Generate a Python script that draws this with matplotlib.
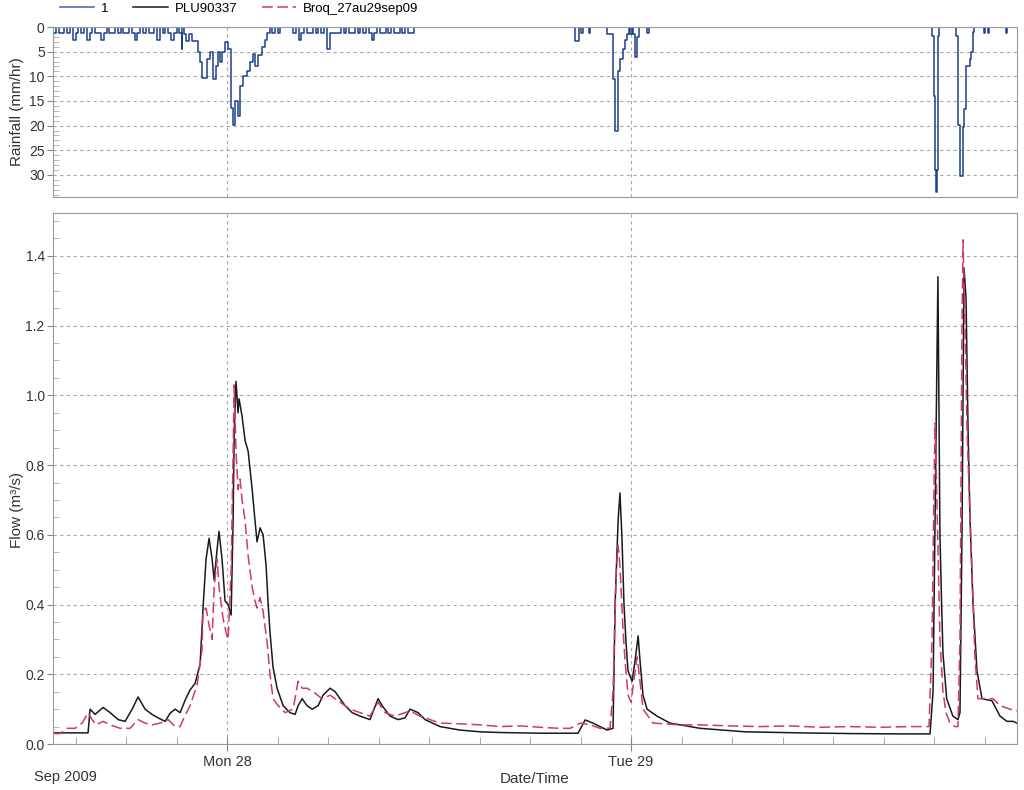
import numpy as np
import matplotlib
matplotlib.use('Agg')
import matplotlib.pyplot as plt
import matplotlib.dates as mdates
from matplotlib.ticker import MultipleLocator, FormatStrFormatter
from matplotlib.lines import Line2D

plt.rcParams['font.family'] = ['Liberation Sans', 'DejaVu Sans']

# times are hours after 27 Sep 2009 00:00
t_start, t_end = 13.66, 70.93

# modelled flow PLU90337 (m3/s)
plu_h = [13.66, 15.74, 15.86, 16.16, 16.63, 17.05, 17.53, 17.94, 18.36, 18.71, 19.13, 19.54,
         19.90, 20.32, 20.61, 20.91, 21.21, 21.51, 21.80, 22.10, 22.40, 22.57, 22.75, 22.93,
         23.11, 23.23, 23.41, 23.52, 23.70, 23.88, 24.06, 24.24, 24.36, 24.42, 24.53, 24.65,
         24.71, 24.89, 25.07, 25.25, 25.49, 25.66, 25.78, 25.96, 26.14, 26.32, 26.44, 26.55,
         26.73, 26.97, 27.33, 27.74, 28.04, 28.22, 28.46, 28.75, 29.05, 29.41, 29.70, 30.12,
         30.42, 30.71, 31.01, 31.43, 31.90, 32.49, 32.97, 33.21, 33.68, 34.16, 34.57, 34.87,
         35.35, 35.76, 36.65, 37.84, 39.03, 40.22, 42.59, 44.85, 45.27, 45.74, 46.57, 46.93,
         47.05, 47.23, 47.34, 47.46, 47.58, 47.70, 47.82, 48.06, 48.24, 48.42, 48.53, 48.71,
         48.95, 49.54, 50.31, 50.91, 52.10, 54.77, 58.04, 61.01, 63.98, 65.76, 65.94, 66.06,
         66.23, 66.35, 66.45, 66.53, 66.75, 67.12, 67.42, 67.54, 67.66, 67.78, 67.90, 68.02,
         68.14, 68.31, 68.55, 68.85, 69.44, 69.92, 70.33, 70.69, 70.93]
plu_q = [0.032, 0.032, 0.10, 0.085, 0.105, 0.09, 0.07, 0.065, 0.10, 0.135, 0.10, 0.085,
         0.075, 0.065, 0.088, 0.10, 0.09, 0.126, 0.155, 0.174, 0.23, 0.39, 0.53, 0.59,
         0.53, 0.47, 0.56, 0.61, 0.53, 0.41, 0.40, 0.37, 0.65, 0.89, 1.04, 0.95,
         0.99, 0.94, 0.87, 0.84, 0.73, 0.64, 0.58, 0.62, 0.60, 0.51, 0.40, 0.32,
         0.22, 0.16, 0.11, 0.09, 0.085, 0.11, 0.13, 0.11, 0.10, 0.11, 0.14, 0.16,
         0.15, 0.13, 0.11, 0.09, 0.08, 0.07, 0.13, 0.11, 0.08, 0.07, 0.075, 0.10,
         0.09, 0.07, 0.05, 0.04, 0.035, 0.033, 0.031, 0.031, 0.069, 0.06, 0.04, 0.045,
         0.40, 0.64, 0.72, 0.59, 0.40, 0.29, 0.21, 0.18, 0.24, 0.31, 0.24, 0.14,
         0.10, 0.08, 0.06, 0.055, 0.045, 0.035, 0.032, 0.03, 0.029, 0.029, 0.15, 0.64,
         1.34, 0.60, 0.40, 0.26, 0.13, 0.08, 0.07, 0.09, 0.60, 1.365, 1.28, 0.90,
         0.64, 0.41, 0.21, 0.13, 0.124, 0.08, 0.065, 0.065, 0.06]

# observed flow Broq_27au29sep09 (m3/s)
obs_h = [13.66, 14.08, 14.50, 14.97, 15.39, 15.74, 15.98, 16.22, 16.63, 17.05, 17.65, 18.24,
         18.71, 19.13, 19.54, 20.02, 20.50, 20.91, 21.21, 21.39, 21.80, 22.22, 22.51, 22.57,
         22.75, 22.93, 23.11, 23.23, 23.41, 23.52, 23.76, 23.94, 24.06, 24.24, 24.36, 24.42,
         24.53, 24.65, 24.77, 24.89, 25.07, 25.25, 25.49, 25.66, 25.78, 25.96, 26.14, 26.38,
         26.55, 26.73, 27.03, 27.45, 27.92, 28.22, 28.46, 28.75, 29.11, 29.64, 30.12, 30.71,
         31.31, 31.90, 32.49, 32.97, 33.38, 33.98, 34.87, 35.46, 36.65, 37.84, 39.03, 40.22,
         41.41, 42.59, 43.78, 44.38, 44.97, 45.56, 46.16, 46.75, 46.93, 47.11, 47.23, 47.34,
         47.52, 47.64, 47.82, 48.00, 48.24, 48.36, 48.53, 48.71, 49.31, 50.91, 52.10, 53.88,
         55.66, 57.45, 59.23, 61.01, 62.79, 64.57, 65.70, 65.88, 66.00, 66.06, 66.17, 66.35,
         66.53, 66.71, 66.95, 67.24, 67.42, 67.54, 67.66, 67.72, 67.84, 67.96, 68.14, 68.25,
         68.43, 68.61, 69.03, 69.50, 69.92, 70.51, 70.93]
obs_q = [0.03, 0.03, 0.045, 0.045, 0.06, 0.09, 0.07, 0.055, 0.065, 0.055, 0.045, 0.045,
         0.07, 0.06, 0.055, 0.06, 0.07, 0.05, 0.05, 0.07, 0.11, 0.17, 0.27, 0.38,
         0.39, 0.34, 0.30, 0.45, 0.53, 0.45, 0.36, 0.32, 0.30, 0.50, 0.84, 1.03,
         0.84, 0.73, 0.76, 0.70, 0.64, 0.54, 0.45, 0.41, 0.39, 0.42, 0.38, 0.29,
         0.20, 0.13, 0.11, 0.09, 0.10, 0.18, 0.16, 0.16, 0.15, 0.13, 0.14, 0.12,
         0.10, 0.09, 0.08, 0.12, 0.09, 0.08, 0.095, 0.08, 0.06, 0.058, 0.055, 0.05,
         0.052, 0.048, 0.045, 0.045, 0.06, 0.055, 0.045, 0.045, 0.15, 0.49, 0.57, 0.51,
         0.33, 0.24, 0.14, 0.12, 0.21, 0.25, 0.18, 0.10, 0.06, 0.055, 0.055, 0.052,
         0.05, 0.052, 0.048, 0.05, 0.048, 0.05, 0.05, 0.30, 0.75, 0.92, 0.70, 0.30,
         0.15, 0.09, 0.06, 0.05, 0.05, 0.30, 1.20, 1.446, 1.20, 0.90, 0.65, 0.50,
         0.25, 0.13, 0.13, 0.13, 0.11, 0.10, 0.095]

# rainfall (mm/hr), bursts recorded every 10 min / 5 min
rain_a_start = 13.67
rain_a = [1.2, 0, 1.2, 1.2, 0, 1.2, 0, 2.6, 1.2, 0, 1.2, 0, 2.6, 1.2, 0, 1.2, 1.2, 2.6,
          1.2, 0, 1.2, 1.2, 0, 1.2, 0, 1.2, 1.2, 0, 1.2, 2.6, 1.2, 0, 1.2, 0, 1.2, 1.2, 0,
          2.6, 0, 1.2, 0, 1.2, 2.6, 1.2, 0, 1.2]
rain_c_start = 27.92
rain_c = [1.2, 0, 2.6, 1.2, 0, 1.2, 1.2, 0, 1.2, 0, 1.2, 0, 4.5, 1.2, 1.2, 1.2, 1.2,
          0, 1.2, 0, 1.2, 1.2, 0, 1.2, 0, 1.2, 0, 1.2, 2.6, 1.2, 0, 1.2, 1.2, 0, 1.2, 0,
          1.2, 1.2, 0, 1.2, 0, 1.2, 1.2]
rain_d_start = 44.67
rain_d = [2.8, 2.8, 2.8, 0, 1.2, 1.2, 0, 0, 0, 0, 1.2]

# main storms, given as change points
storm_h = [21.33, 21.42, 21.56, 21.74, 21.92, 22.28, 22.40, 22.51, 22.81, 22.99, 23.17, 23.35,
           23.47, 23.58, 23.70, 23.88, 24.06, 24.24, 24.36, 24.48, 24.65, 24.77, 24.95, 25.19,
           25.37, 25.54, 25.66, 25.84, 26.08, 26.26, 26.38, 26.55, 26.67, 26.85, 27.03, 27.15,
           46.57, 46.93, 47.05, 47.23, 47.34, 47.52, 47.61, 47.76, 47.85, 47.94, 48.06, 48.12,
           48.21, 48.36, 48.48, 48.95, 49.04,
           65.85, 65.97, 66.03, 66.09, 66.15, 66.21, 66.29, 67.30, 67.42, 67.57, 67.74, 67.79,
           67.88, 68.14, 68.20, 68.33, 68.39, 68.97, 69.05, 69.18, 69.26, 70.27, 70.35]
storm_r = [4.5, 1.4, 2.8, 1.4, 2.8, 5.0, 7.0, 10.3, 6.5, 5.0, 10.5, 8.0,
           5.0, 7.0, 5.0, 3.0, 4.5, 16.4, 19.8, 15.0, 18.0, 12.0, 9.9, 8.9,
           7.2, 5.4, 8.0, 5.6, 4.0, 2.6, 1.2, 0, 1.2, 0, 1.2, 0,
           1.4, 10.6, 21.2, 8.9, 6.5, 4.5, 2.6, 1.4, 0, 1.4, 0, 1.4,
           6.0, 2.0, 0, 1.2, 0,
           1.8, 14.0, 29.0, 33.4, 29.0, 1.8, 0, 1.8, 19.8, 30.3, 20.3, 16.7,
           7.9, 6.5, 5.1, 1.0, 0, 1.2, 0, 1.2, 0, 1.2, 0]


def to_dt(hours):
    sec = np.round(np.asarray(hours, dtype=float) * 3600).astype('int64')
    return np.datetime64('2009-09-27T00:00:00') + sec.astype('timedelta64[s]')


# collect rainfall into one step series
pts = [(t_start, 0.0)]
for start, step, vals in [(rain_a_start, 1 / 6, rain_a), (rain_c_start, 1 / 6, rain_c),
                          (rain_d_start, 1 / 12, rain_d)]:
    for i, v in enumerate(vals):
        pts.append((start + i * step, v))
    pts.append((start + len(vals) * step, 0.0))
pts += list(zip(storm_h, storm_r))
pts.append((t_end, 0.0))
pts.sort()
rain_h = [p[0] for p in pts]
rain_v = [p[1] for p in pts]

blue = '#1c3f8e'
grid_kw = dict(color='#a8a8a8', linestyle=(0, (3, 3)), linewidth=0.8)

fig = plt.figure(figsize=(10.24, 7.9), dpi=100)
ax_r = fig.add_axes([0.0518, 0.7506, 0.9414, 0.2152])
ax_q = fig.add_axes([0.0518, 0.0582, 0.9414, 0.6722])

ax_r.step(to_dt(rain_h), rain_v, where='post', color=blue, lw=1.1, label='1')
ax_q.plot(to_dt(plu_h), plu_q, color='#1a1a1a', lw=1.1, label='PLU90337')
ax_q.plot(to_dt(obs_h), obs_q, color='#cf3a66', lw=1.1, dashes=(7, 3), label='Broq_27au29sep09')

for ax in (ax_r, ax_q):
    ax.set_xlim(to_dt(t_start), to_dt(t_end))
    ax.xaxis.set_major_locator(mdates.DayLocator())
    ax.xaxis.set_minor_locator(mdates.HourLocator(byhour=range(0, 24, 3)))
    ax.xaxis.set_major_formatter(mdates.DateFormatter('%a %d'))
    ax.grid(True, which='major', **grid_kw)
    for s in ax.spines.values():
        s.set_color('#9a9a9a')
    ax.tick_params(which='major', axis='y', direction='out', length=4, color='#888888',
                   labelsize=10, labelcolor='#333333', pad=2)
    ax.tick_params(which='minor', axis='y', direction='in', length=4, color='#aaaaaa')
    ax.tick_params(which='major', axis='x', direction='inout', length=10, color='#888888',
                   labelsize=10.5, labelcolor='#333333', pad=3)
    ax.tick_params(which='minor', axis='x', direction='in', length=5, color='#999999')

ax_r.set_ylim(34.5, 0)
ax_r.yaxis.set_major_locator(MultipleLocator(5))
ax_r.yaxis.set_minor_locator(MultipleLocator(1))
ax_r.tick_params(axis='x', which='both', labelbottom=False, length=0)
ax_r.set_ylabel('Rainfall (mm/hr)', fontsize=11, color='#333333')
ax_r.yaxis.set_label_coords(-0.03, 0.5)

ax_q.set_ylim(0, 1.523)
ax_q.yaxis.set_major_locator(MultipleLocator(0.2))
ax_q.yaxis.set_minor_locator(MultipleLocator(0.05))
ax_q.yaxis.set_major_formatter(FormatStrFormatter('%.1f'))
ax_q.set_ylabel('Flow (m³/s)', fontsize=11, color='#333333')
ax_q.yaxis.set_label_coords(-0.03, 0.44)
ax_q.set_xlabel('Date/Time', fontsize=11, color='#333333', labelpad=2)
fig.text(0.064, 0.011, 'Sep 2009', ha='center', fontsize=10.5, color='#333333')

handles = [Line2D([], [], color='#3a63ad', lw=1.1),
           Line2D([], [], color='#1a1a1a', lw=1.1),
           Line2D([], [], color='#cf3a66', lw=1.1, dashes=(7, 3))]
fig.legend(handles, ['1', 'PLU90337', 'Broq_27au29sep09'], loc='upper left',
           bbox_to_anchor=(0.047, 1.012), ncol=3, frameon=False, fontsize=9.5,
           handlelength=2.6, columnspacing=1.9, handletextpad=0.5)

fig.savefig('out.png', dpi=100)
